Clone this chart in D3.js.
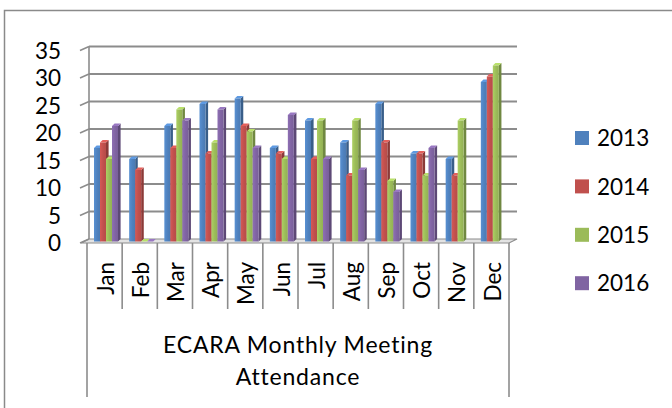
<!DOCTYPE html>
<html>
<head>
<meta charset="utf-8">
<script src="https://cdn.jsdelivr.net/npm/d3@7"></script>
<style>
  html, body { margin: 0; padding: 0; background: #fff; }
  svg { display: block; font-family: Lato, "Noto Sans", sans-serif; }
</style>
</head>
<body>
<script>
// data
const months = ['Jan', 'Feb', 'Mar', 'Apr', 'May', 'Jun', 'Jul', 'Aug', 'Sep', 'Oct', 'Nov', 'Dec']
const years = ['2013', '2014', '2015', '2016']
const v2013 = [17, 15, 21, 25, 26, 17, 22, 18, 25, 16, 15, 29]
const v2014 = [18, 13, 17, 16, 21, 16, 15, 12, 18, 16, 12, 30]
const v2015 = [15, 0, 24, 18, 20, 15, 22, 22, 11, 12, 22, 32]
const v2016 = [21, 0, 22, 24, 17, 23, 15, 13, 9, 17, null, null]
const yTicks = [0, 5, 10, 15, 20, 25, 30, 35]
const colors = ['#4f81bd', '#c0504d', '#9bbb59', '#8064a2']
const titleLines = ['ECARA Monthly Meeting', 'Attendance']

const WIDTH = 672
const HEIGHT = 408
const DX = 8, DY = -4      // depth of the 3D box
const D = 2.6              // depth of each bar
const FONT = 22.5
const GRID = '#8c8c8c'

const svg = d3.select('body').append('svg')
  .attr('width', WIDTH).attr('height', HEIGHT)

// chart frame (runs off the picture right and bottom)
svg.append('rect')
  .attr('x', 4.5).attr('y', 10.5)
  .attr('width', 700).attr('height', 420)
  .attr('fill', 'none').attr('stroke', '#8a8a8a').attr('stroke-width', 1.5)

const x = d3.scaleBand().domain(months).range([87, 509])
const xs = d3.scaleBand().domain(years).range([7, 31])
const yFront = d3.scaleLinear().domain([0, 35]).range([243, 50.5])
const yBar = d3.scaleLinear().domain([0, 35]).range([241.5, 49])

const x0 = x.range()[0] - 6, x1 = x.range()[1]

// floor
svg.append('polygon')
  .attr('points', [[x0, yFront(0)], [x1, yFront(0)], [x1 + DX, yFront(0) + DY], [x0 + DX, yFront(0) + DY]].join(' '))
  .attr('fill', '#e3e3e3').attr('stroke', GRID).attr('stroke-width', 1.2)

// back wall gridlines and left wall ticks
const grid = svg.append('g')
grid.selectAll('line.g')
  .data(yTicks.filter(d => d > 0))
  .join('line')
  .attr('class', 'g')
  .attr('x1', x0 + DX).attr('x2', x1 + DX)
  .attr('y1', d => yFront(d) + DY).attr('y2', d => yFront(d) + DY)
  .attr('stroke', GRID).attr('stroke-width', 1.8)
grid.selectAll('line.t')
  .data(yTicks)
  .join('line')
  .attr('class', 't')
  .attr('x1', x0 - 1).attr('x2', x0 + DX)
  .attr('y1', d => yFront(d)).attr('y2', d => yFront(d) + DY)
  .attr('stroke', GRID).attr('stroke-width', 1.6)
grid.append('line')
  .attr('x1', x0 + DX).attr('x2', x0 + DX)
  .attr('y1', yFront(35) + DY).attr('y2', yFront(0) + DY)
  .attr('stroke', GRID).attr('stroke-width', 1.6)

// y labels
svg.append('g').selectAll('text')
  .data(yTicks)
  .join('text')
  .attr('x', 61).attr('y', d => yFront(d))
  .attr('dy', '0.36em')
  .attr('text-anchor', 'end')
  .attr('font-size', FONT)
  .text(d => d)

// bars
const defs = svg.append('defs')
colors.forEach((c, i) => {
  const g = defs.append('linearGradient').attr('id', 'gr' + i)
  g.append('stop').attr('offset', '0%').attr('stop-color', d3.color(c).brighter(0.3))
  g.append('stop').attr('offset', '55%').attr('stop-color', c)
  g.append('stop').attr('offset', '100%').attr('stop-color', d3.color(c).darker(0.15))
})

const seriesValues = [v2013, v2014, v2015, v2016]
const bars = []
months.forEach((m, mi) => {
  years.forEach((yr, si) => {
    const v = seriesValues[si][mi]
    if (v === null) return
    bars.push({ m, yr, si, v })
  })
})

const base = yBar(0)
const bw = xs.bandwidth()
const barG = svg.append('g')
bars.forEach(b => {
  const bx = x(b.m) + xs(b.yr)
  const ty = yBar(b.v)
  const c = colors[b.si]
  const g = barG.append('g')
  // side face
  g.append('polygon')
    .attr('points', [[bx + bw, ty], [bx + bw + D, ty - D], [bx + bw + D, base - D], [bx + bw, base]].join(' '))
    .attr('fill', d3.color(c).darker(0.9))
  // top face
  g.append('polygon')
    .attr('points', [[bx, ty], [bx + D, ty - D], [bx + bw + D, ty - D], [bx + bw, ty]].join(' '))
    .attr('fill', d3.color(c).brighter(0.5))
  // front face
  if (b.v > 0) {
    g.append('rect')
      .attr('x', bx).attr('y', ty)
      .attr('width', bw).attr('height', base - ty)
      .attr('fill', 'url(#gr' + b.si + ')')
  }
})

// category separators
const seps = months.map(m => x(m)).concat([x1])
svg.append('g').selectAll('line')
  .data(seps)
  .join('line')
  .attr('x1', d => d).attr('x2', d => d)
  .attr('y1', yFront(0))
  .attr('y2', (d, i) => (i === 0 || i === seps.length - 1) ? 397 : 309)
  .attr('stroke', GRID).attr('stroke-width', 1.6)

// month labels
svg.append('g').selectAll('text')
  .data(months)
  .join('text')
  .attr('transform', d => `translate(${x(d) + x.bandwidth() / 2 + 1},262) rotate(-90)`)
  .attr('dy', '0.36em')
  .attr('text-anchor', 'end')
  .attr('font-size', FONT)
  .text(d => d)

// group title
svg.append('g').selectAll('text')
  .data(titleLines)
  .join('text')
  .attr('x', (x0 + 6 + x1) / 2)
  .attr('y', (d, i) => 353 + i * 32)
  .attr('text-anchor', 'middle')
  .attr('font-size', 23)
  .attr('letter-spacing', 0.8)
  .text(d => d)

// legend
const legend = svg.append('g').selectAll('g')
  .data(years)
  .join('g')
  .attr('transform', (d, i) => `translate(575,${138 + i * 48.4})`)
legend.append('rect')
  .attr('x', 0).attr('y', -7)
  .attr('width', 14).attr('height', 14)
  .attr('fill', (d, i) => colors[i])
legend.append('text')
  .attr('x', 22).attr('dy', '0.36em')
  .attr('font-size', FONT)
  .text(d => d)
</script>
</body>
</html>
